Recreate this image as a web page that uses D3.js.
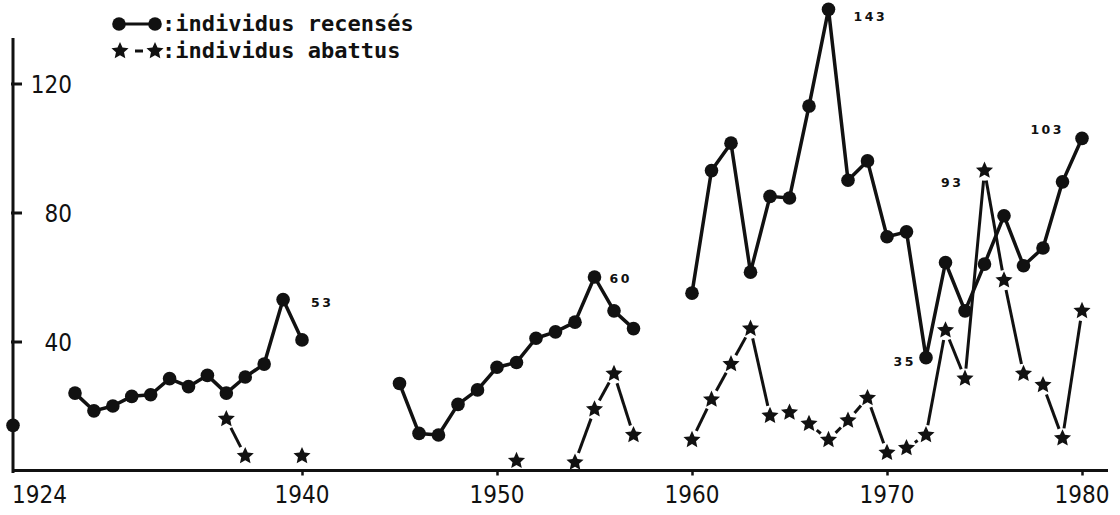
<!DOCTYPE html>
<html>
<head>
<meta charset="utf-8">
<script src="https://cdn.jsdelivr.net/npm/d3@7"></script>
<style>
  html, body { margin: 0; padding: 0; background: #fff; }
  svg { display: block; }
  .tick-label { font-family: "DejaVu Sans Condensed", "Liberation Sans Narrow", "DejaVu Sans", sans-serif; font-stretch: condensed; font-size: 24px; fill: #111; }
  .legend-text { font-family: "DejaVu Sans Mono", "Liberation Mono", monospace; font-weight: bold; font-size: 22px; fill: #111; }
  .value-label { font-family: "DejaVu Sans", sans-serif; font-weight: bold; font-size: 12.5px; letter-spacing: 2.5px; fill: #111; }
</style>
</head>
<body>
<svg id="chart" width="1120" height="515"></svg>
<script>
// Census counts (individus recensés), by year
const countYears = [1924, 1928, 1929, 1930, 1931, 1932, 1933, 1934, 1935, 1936, 1937, 1938, 1939, 1940,
  1945, 1946, 1947, 1948, 1949, 1950, 1951, 1952, 1953, 1954, 1955, 1956, 1957,
  1960, 1961, 1962, 1963, 1964, 1965, 1966, 1967, 1968, 1969, 1970, 1971, 1972, 1973, 1974, 1975, 1976, 1977, 1978, 1979, 1980];
const counts = [14, 24, 18.5, 20, 23, 23.5, 28.5, 26, 29.5, 24, 29, 33, 53, 40.5,
  27, 11.5, 11, 20.5, 25, 32, 33.5, 41, 43, 46, 60, 49.5, 44,
  55, 93, 101.5, 61.5, 85, 84.5, 113, 143, 90, 96, 72.5, 74, 35, 64.5, 49.5, 64, 79, 63.5, 69, 89.5, 103];

// Animals shot (individus abattus), by year
const shotYears = [1936, 1937, 1940, 1951, 1954, 1955, 1956, 1957,
  1960, 1961, 1962, 1963, 1964, 1965, 1966, 1967, 1968, 1969, 1970, 1971, 1972, 1973, 1974, 1975, 1976, 1977, 1978, 1979, 1980];
const shot = [16, 4.5, 4.5, 3, 2.5, 19, 30, 11,
  9.5, 22, 33, 44, 17, 18, 14.5, 9.5, 15.5, 22.5, 5.5, 7, 11, 43.5, 28.5, 93, 59, 30, 26.5, 10, 49.5];

// Axis ticks
const xTickYears = [1924, 1940, 1950, 1960, 1970, 1980];
const yTickValues = [40, 80, 120];

// Annotated values
const labelSeries = ["count", "count", "count", "count", "shot", "count"];
const labelYears = [1939, 1955, 1967, 1972, 1975, 1980];

const legendLabels = [":individus recensés", ":individus abattus"];

const svg = d3.select("#chart");
const ink = "#111";

// Time axis starts at 1924; the stretch before 1928 is compressed
const x = d3.scaleLinear().domain([1924, 1928, 1940, 1980]).range([13, 75, 302, 1082]);
const y = d3.scaleLinear().domain([0, 140]).range([470.5, 19]);

// Axes
svg.append("line").attr("x1", 13).attr("x2", 13).attr("y1", 38).attr("y2", 473)
  .attr("stroke", ink).attr("stroke-width", 3);
svg.append("line").attr("x1", 12).attr("x2", 1108).attr("y1", y(0)).attr("y2", y(0))
  .attr("stroke", ink).attr("stroke-width", 3);

const yAxis = d3.axisRight(y).tickValues(yTickValues).tickSize(11).tickFormat("");
const yg = svg.append("g").attr("transform", "translate(11,0)").call(yAxis);
yg.select(".domain").remove();
yg.selectAll(".tick line").attr("stroke", ink).attr("stroke-width", 3);

svg.selectAll(".ylab").data(yTickValues).join("text")
  .attr("class", "tick-label")
  .attr("x", 72).attr("y", d => y(d) + 9)
  .attr("text-anchor", "end")
  .text(d => d);

const xAxis = d3.axisBottom(x).tickValues(xTickYears.slice(1)).tickSize(5).tickFormat("");
const xg = svg.append("g").attr("transform", `translate(0,${y(0)})`).call(xAxis);
xg.select(".domain").remove();
xg.selectAll(".tick line").attr("stroke", ink).attr("stroke-width", 2.5);

svg.selectAll(".xlab").data(xTickYears).join("text")
  .attr("class", "tick-label")
  .attr("x", d => d === 1924 ? 12 : x(d))
  .attr("y", 503)
  .attr("text-anchor", d => d === 1924 ? "start" : "middle")
  .text(d => d);

// Split a series into runs of consecutive years
function runs(years, values) {
  const out = [];
  years.forEach((yr, i) => {
    const p = { year: yr, value: values[i] };
    if (i > 0 && yr - years[i - 1] === 1) out[out.length - 1].push(p);
    else out.push([p]);
  });
  return out;
}

const countPts = countYears.map((yr, i) => ({ year: yr, value: counts[i] }));
const shotPts = shotYears.map((yr, i) => ({ year: yr, value: shot[i] }));

// Census: solid polyline with filled dots
const line = d3.line().x(d => x(d.year)).y(d => y(d.value));
svg.append("g").selectAll("path").data(runs(countYears, counts)).join("path")
  .attr("d", line).attr("fill", "none").attr("stroke", ink)
  .attr("stroke-width", 3.5).attr("stroke-linejoin", "round");
svg.append("g").selectAll("circle").data(countPts).join("circle")
  .attr("cx", d => x(d.year)).attr("cy", d => y(d.value)).attr("r", 6.8).attr("fill", ink);

// Shot animals: stars linked by strokes that stop short of each star
const gap = 10;
const links = [];
runs(shotYears, shot).forEach(r => {
  for (let i = 1; i < r.length; i++) {
    const x1 = x(r[i - 1].year), y1 = y(r[i - 1].value);
    const x2 = x(r[i].year), y2 = y(r[i].value);
    const len = Math.hypot(x2 - x1, y2 - y1);
    if (len > 2 * gap + 3) {
      const ux = (x2 - x1) / len, uy = (y2 - y1) / len;
      links.push({ x1: x1 + ux * gap, y1: y1 + uy * gap, x2: x2 - ux * gap, y2: y2 - uy * gap });
    }
  }
});
svg.append("g").selectAll("line").data(links).join("line")
  .attr("x1", d => d.x1).attr("y1", d => d.y1).attr("x2", d => d.x2).attr("y2", d => d.y2)
  .attr("stroke", ink).attr("stroke-width", 3);

// Chunky five-pointed star symbol (outer radius from symbol size)
const chunkyStar = {
  draw(context, size) {
    const R = Math.sqrt(size) , r = R * 0.47;
    for (let i = 0; i < 10; i++) {
      const a = -Math.PI / 2 + i * Math.PI / 5;
      const rad = i % 2 ? r : R;
      const px = rad * Math.cos(a), py = rad * Math.sin(a);
      if (i === 0) context.moveTo(px, py); else context.lineTo(px, py);
    }
    context.closePath();
  }
};
const star = d3.symbol(chunkyStar, 81);
svg.append("g").selectAll("path").data(shotPts).join("path")
  .attr("d", star)
  .attr("transform", d => `translate(${x(d.year)},${y(d.value)})`)
  .attr("fill", ink);

// Value annotations
const labelOffset = {
  "count1939": [28, 7, "start"], "count1955": [15, 6, "start"], "count1967": [25, 12, "start"],
  "count1972": [-10, 8, "end"], "shot1975": [-21, 16, "end"], "count1980": [-18, -4, "end"]
};
labelYears.forEach((yr, i) => {
  const s = labelSeries[i];
  const v = s === "count" ? counts[countYears.indexOf(yr)] : shot[shotYears.indexOf(yr)];
  const off = labelOffset[s + yr];
  svg.append("text").attr("class", "value-label")
    .attr("x", x(yr) + off[0]).attr("y", y(v) + off[1])
    .attr("text-anchor", off[2]).text(v);
});

// Legend
const lg = svg.append("g");
lg.append("line").attr("x1", 119).attr("x2", 155).attr("y1", 24).attr("y2", 24)
  .attr("stroke", ink).attr("stroke-width", 3);
lg.selectAll("circle").data([119, 155]).join("circle")
  .attr("cx", d => d).attr("cy", 24).attr("r", 6.8).attr("fill", ink);
lg.append("line").attr("x1", 135).attr("x2", 143).attr("y1", 51).attr("y2", 51)
  .attr("stroke", ink).attr("stroke-width", 3);
lg.selectAll("path").data([120, 155]).join("path")
  .attr("d", star).attr("transform", d => `translate(${d},51)`).attr("fill", ink);
lg.selectAll("text").data(legendLabels).join("text")
  .attr("class", "legend-text")
  .attr("x", 162).attr("y", (d, i) => 31 + i * 27)
  .text(d => d);
</script>
</body>
</html>
